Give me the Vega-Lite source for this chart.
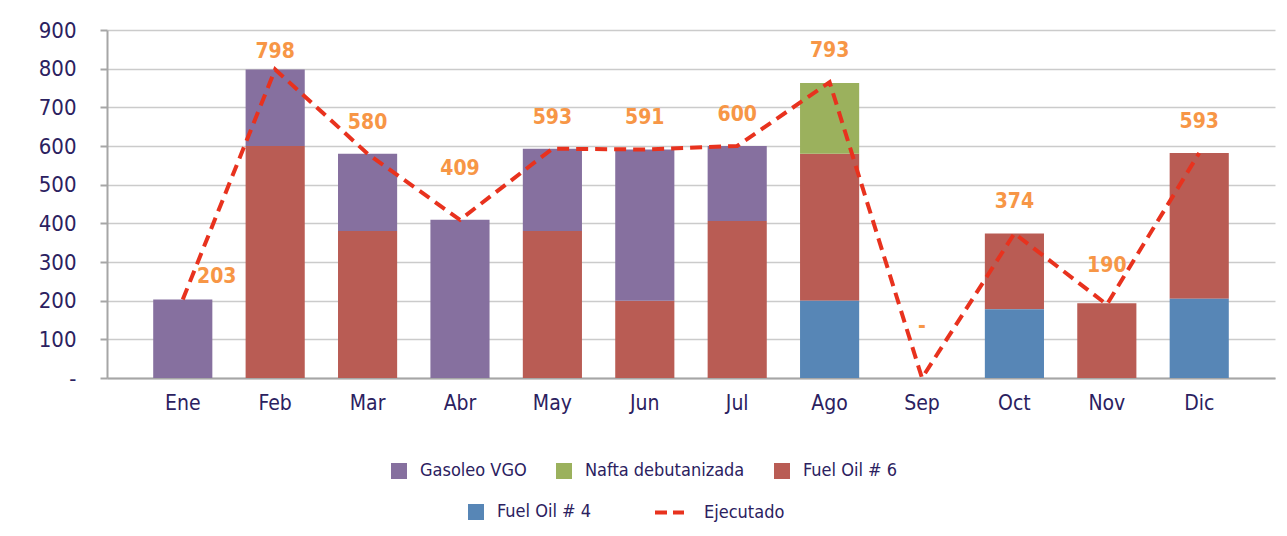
{
  "$schema": "https://vega.github.io/schema/vega-lite/v6.json",
  "width": 1168,
  "height": 348,
  "autosize": {"type": "none"},
  "padding": {"left": 107, "top": 30, "right": 12, "bottom": 158},
  "background": "white",
  "datasets": {
    "barras": [
      {"mes": "Ene", "producto": "Gasoleo VGO", "valor": 203},
      {"mes": "Feb", "producto": "Fuel Oil # 6", "valor": 600},
      {"mes": "Feb", "producto": "Gasoleo VGO", "valor": 198},
      {"mes": "Mar", "producto": "Fuel Oil # 6", "valor": 380},
      {"mes": "Mar", "producto": "Gasoleo VGO", "valor": 200},
      {"mes": "Abr", "producto": "Gasoleo VGO", "valor": 409},
      {"mes": "May", "producto": "Fuel Oil # 6", "valor": 380},
      {"mes": "May", "producto": "Gasoleo VGO", "valor": 213},
      {"mes": "Jun", "producto": "Fuel Oil # 6", "valor": 200},
      {"mes": "Jun", "producto": "Gasoleo VGO", "valor": 391},
      {"mes": "Jul", "producto": "Fuel Oil # 6", "valor": 406},
      {"mes": "Jul", "producto": "Gasoleo VGO", "valor": 194},
      {"mes": "Ago", "producto": "Fuel Oil # 4", "valor": 200},
      {"mes": "Ago", "producto": "Fuel Oil # 6", "valor": 380},
      {"mes": "Ago", "producto": "Nafta debutanizada", "valor": 183},
      {"mes": "Oct", "producto": "Fuel Oil # 4", "valor": 178},
      {"mes": "Oct", "producto": "Fuel Oil # 6", "valor": 196},
      {"mes": "Nov", "producto": "Fuel Oil # 6", "valor": 193},
      {"mes": "Dic", "producto": "Fuel Oil # 4", "valor": 205},
      {"mes": "Dic", "producto": "Fuel Oil # 6", "valor": 377}
    ],
    "linea": [
      {"mes": "Ene", "ejecutado": 203, "etiqueta": "203"},
      {"mes": "Feb", "ejecutado": 798, "etiqueta": "798"},
      {"mes": "Mar", "ejecutado": 580, "etiqueta": "580"},
      {"mes": "Abr", "ejecutado": 409, "etiqueta": "409"},
      {"mes": "May", "ejecutado": 593, "etiqueta": "593"},
      {"mes": "Jun", "ejecutado": 591, "etiqueta": "591"},
      {"mes": "Jul", "ejecutado": 600, "etiqueta": "600"},
      {"mes": "Ago", "ejecutado": 765, "etiqueta": "793"},
      {"mes": "Sep", "ejecutado": 0, "etiqueta": "-"},
      {"mes": "Oct", "ejecutado": 374, "etiqueta": "374"},
      {"mes": "Nov", "ejecutado": 190, "etiqueta": "190"},
      {"mes": "Dic", "ejecutado": 582, "etiqueta": "593"}
    ]
  },
  "config": {
    "view": {"stroke": null},
    "axis": {"title": null},
    "axisX": {
      "labelFont": "DejaVu Sans Condensed, sans-serif",
      "labelFontSize": 21,
      "labelColor": "#2B2160",
      "labelAngle": 0,
      "labelPadding": 14,
      "ticks": false,
      "domainColor": "#A6A6A6",
      "domainWidth": 2,
      "grid": false
    },
    "axisY": {
      "labelFont": "DejaVu Sans Condensed, sans-serif",
      "labelFontSize": 22,
      "labelColor": "#2B2160",
      "labelPadding": 24,
      "labelOverlap": false,
      "tickCount": 10,
      "tickSize": 7,
      "tickWidth": 2,
      "tickColor": "#A6A6A6",
      "domainColor": "#A6A6A6",
      "domainWidth": 2,
      "grid": true,
      "gridColor": "#CBCBCB",
      "gridWidth": 1.5
    },
    "legend": {
      "labelFont": "DejaVu Sans Condensed, sans-serif",
      "labelFontSize": 18,
      "labelColor": "#2B2160",
      "labelOffset": 12,
      "labelLimit": 400,
      "symbolType": "square",
      "symbolSize": 256,
      "symbolStrokeWidth": 0,
      "padding": 0,
      "title": null
    }
  },
  "layer": [
    {
      "data": {"name": "barras"},
      "transform": [
        {"stack": "valor", "groupby": ["mes"], "sort": [{"field": "producto", "order": "ascending"}], "as": ["v0", "v1"]}
      ],
      "layer": [
        {
          "transform": [{"filter": "datum.producto !== 'Fuel Oil # 4'"}],
          "mark": {"type": "bar"},
          "encoding": {
            "x": {"field": "mes", "type": "nominal", "sort": null,
                  "scale": {"domain": ["Ene","Feb","Mar","Abr","May","Jun","Jul","Ago","Sep","Oct","Nov","Dic"], "paddingInner": 0.36, "paddingOuter": 0.5}},
            "y": {"field": "v0", "type": "quantitative",
                  "scale": {"domain": [0, 900], "nice": false},
                  "axis": {"values": [0,100,200,300,400,500,600,700,800,900], "labelExpr": "datum.value === 0 ? '-' : datum.label"}},
            "y2": {"field": "v1"},
            "color": {"field": "producto", "type": "nominal",
                      "scale": {"domain": ["Gasoleo VGO", "Nafta debutanizada", "Fuel Oil # 6"], "range": ["#86709F", "#9BB15D", "#B95C54"]},
                      "legend": {"orient": "none", "legendX": 283, "legendY": 432, "direction": "horizontal", "columnPadding": 28, "title": null}}
          }
        },
        {
          "transform": [{"filter": "datum.producto === 'Fuel Oil # 4'"}],
          "mark": {"type": "bar"},
          "encoding": {
            "x": {"field": "mes", "type": "nominal", "sort": null},
            "y": {"field": "v0", "type": "quantitative",
                  "axis": {"values": [0,100,200,300,400,500,600,700,800,900], "labelExpr": "datum.value === 0 ? '-' : datum.label"}},
            "y2": {"field": "v1"},
            "fill": {"field": "producto", "type": "nominal",
                     "scale": {"domain": ["Fuel Oil # 4"], "range": ["#5786B6"]},
                     "legend": {"orient": "none", "legendX": 360, "legendY": 473, "title": null}}
          }
        }
      ]
    },
    {
      "data": {"name": "linea"},
      "mark": {"type": "line", "strokeDash": [12, 7], "strokeWidth": 4, "strokeCap": "butt"},
      "encoding": {
        "x": {"field": "mes", "type": "nominal", "sort": null},
        "y": {"field": "ejecutado", "type": "quantitative",
              "axis": {"values": [0,100,200,300,400,500,600,700,800,900], "labelExpr": "datum.value === 0 ? '-' : datum.label"}},
        "stroke": {"datum": "Ejecutado", "type": "nominal",
                   "scale": {"range": ["#E8321E"]},
                   "legend": {"orient": "none", "legendX": 546, "legendY": 466, "symbolType": "stroke", "symbolSize": 841, "symbolStrokeWidth": 4, "symbolDash": [12, 6], "labelOffset": 18, "title": null}}
      }
    },
    {
      "data": {"name": "linea"},
      "transform": [{"filter": {"field": "mes", "oneOf": ["Mar","May","Jun","Jul","Ago","Oct","Dic"]}}],
      "mark": {"type": "text", "dy": -31, "font": "DejaVu Sans Condensed, sans-serif", "fontWeight": "bold", "fontSize": 21, "color": "#F79646", "baseline": "middle"},
      "encoding": {"x": {"field": "mes", "type": "nominal", "sort": null}, "y": {"field": "ejecutado", "type": "quantitative"}, "text": {"field": "etiqueta"}}
    },
    {
      "data": {"name": "linea"},
      "transform": [{"filter": {"field": "mes", "oneOf": ["Feb"]}}],
      "mark": {"type": "text", "dy": -17, "font": "DejaVu Sans Condensed, sans-serif", "fontWeight": "bold", "fontSize": 21, "color": "#F79646", "baseline": "middle"},
      "encoding": {"x": {"field": "mes", "type": "nominal", "sort": null}, "y": {"field": "ejecutado", "type": "quantitative"}, "text": {"field": "etiqueta"}}
    },
    {
      "data": {"name": "linea"},
      "transform": [{"filter": {"field": "mes", "oneOf": ["Abr","Sep"]}}],
      "mark": {"type": "text", "dy": -51, "font": "DejaVu Sans Condensed, sans-serif", "fontWeight": "bold", "fontSize": 21, "color": "#F79646", "baseline": "middle"},
      "encoding": {"x": {"field": "mes", "type": "nominal", "sort": null}, "y": {"field": "ejecutado", "type": "quantitative"}, "text": {"field": "etiqueta"}}
    },
    {
      "data": {"name": "linea"},
      "transform": [{"filter": {"field": "mes", "oneOf": ["Nov"]}}],
      "mark": {"type": "text", "dy": -39, "font": "DejaVu Sans Condensed, sans-serif", "fontWeight": "bold", "fontSize": 21, "color": "#F79646", "baseline": "middle"},
      "encoding": {"x": {"field": "mes", "type": "nominal", "sort": null}, "y": {"field": "ejecutado", "type": "quantitative"}, "text": {"field": "etiqueta"}}
    },
    {
      "data": {"name": "linea"},
      "transform": [{"filter": {"field": "mes", "oneOf": ["Ene"]}}],
      "mark": {"type": "text", "dx": 34, "dy": -23, "font": "DejaVu Sans Condensed, sans-serif", "fontWeight": "bold", "fontSize": 21, "color": "#F79646", "baseline": "middle"},
      "encoding": {"x": {"field": "mes", "type": "nominal", "sort": null}, "y": {"field": "ejecutado", "type": "quantitative"}, "text": {"field": "etiqueta"}}
    }
  ]
}
